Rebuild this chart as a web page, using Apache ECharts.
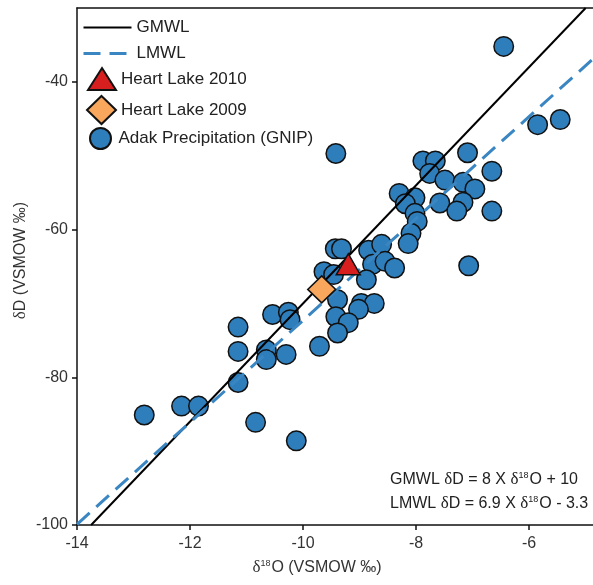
<!DOCTYPE html>
<html>
<head>
<meta charset="utf-8">
<title>Heart Lake isotopes</title>
<script src="https://cdn.jsdelivr.net/npm/echarts@6/dist/echarts.min.js"></script>
<style>
  html, body { margin: 0; padding: 0; background: #fff; }
  #chart { width: 593px; height: 585px; }
</style>
</head>
<body>
<div id="chart"></div>
<script>
// Adak precipitation (GNIP)
var adakO18 = [-6.45, -5.85, -5.45, -9.42, -7.09, -7.88, -7.66, -7.76, -6.66, -7.49,
  -7.17, -6.96, -8.30, -8.02, -8.19, -7.58, -7.17, -7.28, -6.66, -8.02,
  -7.98, -8.09, -8.14, -9.43, -9.32, -8.84, -8.61, -8.77, -8.55, -8.38,
  -8.88, -7.07, -9.63, -9.46, -9.39, -8.97, -8.74, -9.02, -9.42, -9.20,
  -9.39, -9.71, -10.54, -10.26, -10.23, -11.15, -11.15, -10.65, -10.65, -10.30,
  -11.15, -12.15, -11.85, -12.81, -10.84, -10.12];
var adakD = [-35.2, -45.8, -45.1, -49.7, -49.6, -50.7, -50.7, -52.4, -52.1, -53.3,
  -53.6, -54.5, -55.1, -55.7, -56.5, -56.4, -56.3, -57.5, -57.5, -57.8,
  -58.9, -60.5, -61.9, -62.6, -62.6, -62.8, -62.0, -64.7, -64.3, -65.2,
  -66.8, -64.9, -65.7, -66.1, -69.5, -70.0, -70.0, -70.8, -71.8, -72.6,
  -74.0, -75.8, -71.5, -71.2, -72.2, -73.2, -76.5, -76.3, -77.6, -76.9,
  -80.7, -83.9, -83.9, -85.1, -86.1, -88.6];

var heartLake2010 = [-9.2, -64.7];
var heartLake2009 = [-9.67, -68.1];

// meteoric water lines, end points across the plot
var gmwlEnds = [[-13.75, -100], [-5, -30]];
var lmwlEnds = [[-14, -99.9], [-4.87, -36.9]];

var xTicks = [-14, -12, -10, -8, -6];
var yTicks = [-100, -80, -60, -40];

var adakPoints = [];
for (var i = 0; i < adakO18.length; i++) {
  adakPoints.push([adakO18[i], adakD[i]]);
}

var FONT = '"Liberation Sans", Arial, sans-serif';
var SERIF = '"Liberation Serif", "DejaVu Serif", serif';
var BLUE = '#2f7ebc';
var DASH = [17, 9];

var chart = echarts.init(document.getElementById('chart'), null, {renderer: 'canvas'});

var legendText = {fontFamily: FONT, fontSize: 17, color: '#222'};

var symbolLegend = function (name, icon, left, top, w, h, keep) {
  return {
    data: [{name: name, icon: icon}],
    left: left, top: top, padding: 0,
    itemWidth: w, itemHeight: h,
    symbolKeepAspect: keep,
    textStyle: legendText,
    selectedMode: false
  };
};

// equation text, delta in a serif face like the original figure
var eqRich = {
  d: {fontFamily: SERIF, fontSize: 17, fill: '#222'},
  sup: {fontFamily: FONT, fontSize: 9, fill: '#222', verticalAlign: 'top', padding: [0, 1, 8, 0]}
};

var option = {
  animation: false,
  backgroundColor: '#fff',
  grid: {left: 77, top: 8, right: 0, bottom: 60},
  legend: [
    {
      data: [
        {name: 'GMWL'},
        {name: 'LMWL', lineStyle: {type: DASH, width: 3, color: '#3a86c2'}}
      ],
      orient: 'vertical',
      left: 82, top: 19, padding: 0,
      itemWidth: 48, itemHeight: 18, itemGap: 9,
      itemStyle: {opacity: 0},
      textStyle: legendText,
      selectedMode: false
    },
    symbolLegend('Heart Lake 2010', 'triangle', 87, 67, 28, 22, false),
    symbolLegend('Heart Lake 2009', 'diamond', 86, 95, 29, 28, false),
    symbolLegend('Adak Precipitation (GNIP)', 'circle', 89, 127, 26, 21, true)
  ],
  xAxis: [{
    type: 'value',
    min: -14, max: -4.87, interval: 2,
    name: '{d|δ}{sup|18}O (VSMOW ‰)',
    nameLocation: 'middle', nameGap: 34, nameMoveOverlap: false,
    nameTextStyle: {
      fontFamily: FONT, fontSize: 16, color: '#333', padding: [0, 36, 0, 0],
      rich: {
        d: {fontFamily: SERIF, fontSize: 17, color: '#333'},
        sup: {fontFamily: FONT, fontSize: 9, color: '#333', verticalAlign: 'top', padding: [0, 1, 8, 0]}
      }
    },
    splitLine: {show: false},
    axisLine: {lineStyle: {color: '#111', width: 1.5}},
    axisTick: {inside: false, length: 5, lineStyle: {color: '#111', width: 1.5}, customValues: xTicks},
    axisLabel: {fontFamily: FONT, fontSize: 16, color: '#333', margin: 11, customValues: xTicks}
  }, {
    // top frame line only
    type: 'value', position: 'top',
    min: -14, max: -4.87,
    axisLine: {show: true, onZero: false, lineStyle: {color: '#111', width: 1.5}},
    axisTick: {show: false}, axisLabel: {show: false}, splitLine: {show: false}
  }],
  yAxis: {
    type: 'value',
    min: -100, max: -30, interval: 20,
    name: '{d|δ}D (VSMOW ‰)',
    nameLocation: 'middle', nameGap: 48, nameMoveOverlap: false,
    nameTextStyle: {
      fontFamily: FONT, fontSize: 16, color: '#333', padding: [0, 0, 0, 12],
      rich: {d: {fontFamily: SERIF, fontSize: 17, color: '#333'}}
    },
    splitLine: {show: false},
    axisLine: {lineStyle: {color: '#111', width: 1.5}},
    axisTick: {inside: false, length: 5, lineStyle: {color: '#111', width: 1.5}, customValues: yTicks},
    axisLabel: {fontFamily: FONT, fontSize: 16, color: '#333', margin: 9, customValues: yTicks}
  },
  series: [
    {
      name: 'Adak Precipitation (GNIP)',
      type: 'scatter',
      data: adakPoints,
      symbol: 'circle', symbolSize: 19.5,
      z: 2,
      itemStyle: {color: BLUE, borderColor: '#111', borderWidth: 1.5, opacity: 1}
    },
    {
      name: 'GMWL',
      type: 'line',
      data: gmwlEnds,
      symbol: 'none', z: 3,
      itemStyle: {color: '#000'},
      lineStyle: {color: '#000', width: 2}
    },
    {
      name: 'LMWL',
      type: 'line',
      data: lmwlEnds,
      symbol: 'none', z: 3,
      itemStyle: {color: '#3a86c2'},
      lineStyle: {color: '#3a86c2', width: 3, type: DASH}
    },
    {
      name: 'Heart Lake 2010',
      type: 'scatter',
      data: [heartLake2010],
      symbol: 'triangle', symbolSize: [24, 21],
      z: 4,
      itemStyle: {color: '#d71f1f', borderColor: '#111', borderWidth: 1.5, opacity: 1}
    },
    {
      name: 'Heart Lake 2009',
      type: 'scatter',
      data: [heartLake2009],
      symbol: 'diamond', symbolSize: [28, 27],
      z: 4,
      itemStyle: {color: '#f8a75c', borderColor: '#111', borderWidth: 1.5, opacity: 1}
    }
  ],
  graphic: [
    {
      type: 'text', left: 390, top: 471,
      style: {text: 'GMWL {d|δ}D = 8 X {d|δ}{sup|18}O + 10', font: '16px ' + FONT, fill: '#222', rich: eqRich}
    },
    {
      type: 'text', left: 390, top: 495,
      style: {text: 'LMWL {d|δ}D = 6.9 X {d|δ}{sup|18}O - 3.3', font: '16px ' + FONT, fill: '#222', rich: eqRich}
    }
  ]
};

chart.setOption(option);
</script>
</body>
</html>
